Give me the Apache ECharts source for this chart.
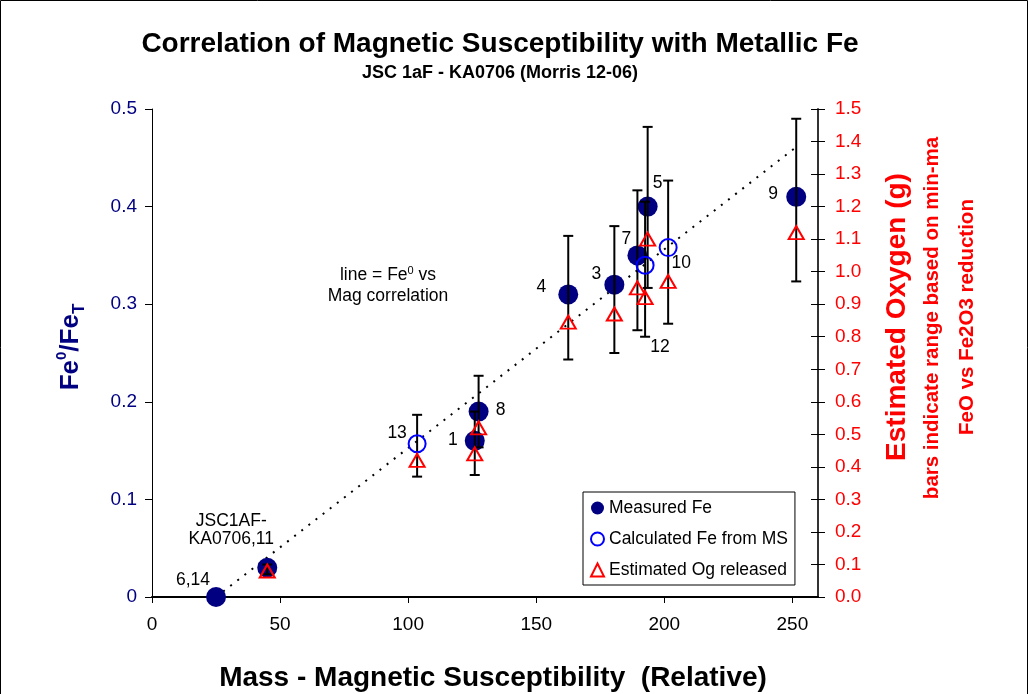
<!DOCTYPE html>
<html>
<head>
<meta charset="utf-8">
<script src="https://cdn.jsdelivr.net/npm/echarts@6/dist/echarts.min.js"></script>
<style>
  html, body { margin: 0; padding: 0; background: #fff; }
  #chart { width: 1029px; height: 694px; }
</style>
</head>
<body>
<div id="chart"></div>
<script>
// measured Fe0/FeT (left axis)
var xMeas = [25, 45, 126, 127.5, 162.5, 180.5, 189.5, 193.5, 251.5];
var yMeas = [0, 0.03, 0.16, 0.19, 0.31, 0.32, 0.35, 0.40, 0.41];
var measNames = ['6,14', 'JSC1AF-\nKA0706,11', '1', '8', '4', '3', '7', '5', '9'];

// calculated Fe from MS (left axis)
var xCalc = [103.5, 192.5, 201.5];
var yCalc = [0.157, 0.34, 0.358];
var calcNames = ['13', '12', '10'];

// estimated oxygen released (right axis) with min-max bars
var xOg = [45, 103.5, 126, 127.5, 162.5, 180.5, 189.5, 192.5, 193.5, 201.5, 251.5];
var yOg = [0.08, 0.42, 0.44, 0.52, 0.845, 0.87, 0.95, 0.92, 1.10, 0.97, 1.12];
var ogLow = [0.07, 0.37, 0.375, 0.46, 0.73, 0.75, 0.82, 0.80, 0.95, 0.84, 0.97];
var ogHigh = [0.10, 0.56, 0.57, 0.68, 1.11, 1.14, 1.25, 1.215, 1.445, 1.28, 1.47];

// Fe0 vs Mag correlation line
var lineX = [25, 251.5];
var lineY = [0, 0.461];

var xTicks = [0, 50, 100, 150, 200, 250];

// label placement (px offsets from the marker centre)
var measOffsets = [[-23, -17], [-36, -38], [-22, -1], [22, -1], [-27, -7], [-18, -11], [-11, -16], [10, -23], [-23, -3]];
var calcOffsets = [[-20, -11], [15, 82], [13, 16]];

var FONT = '"Liberation Sans", Arial, sans-serif';

function withLabels(xs, ys, names, offs) {
    return xs.map(function (x, i) {
        return {
            value: [x, ys[i]],
            label: {
                show: true, position: 'inside', offset: offs[i],
                formatter: names[i], color: '#000', fontSize: 17.5,
                fontFamily: FONT, lineHeight: 18
            }
        };
    });
}

var myChart = echarts.init(document.getElementById('chart'));

var option = {
    backgroundColor: '#fff',
    animation: false,
    textStyle: { fontFamily: FONT },
    grid: { left: 152, right: 211, top: 109, bottom: 97, containLabel: false },
    legend: {
        orient: 'vertical',
        left: 583, top: 492,
        padding: [7, 7, 6, 7],
        itemGap: 13,
        itemWidth: 13, itemHeight: 13,
        backgroundColor: '#fff',
        borderColor: '#000', borderWidth: 1,
        textStyle: { fontSize: 17.5, color: '#000', fontFamily: FONT },
        data: ['Measured Fe', 'Calculated Fe from MS', 'Estimated Og released']
    },
    xAxis: {
        type: 'value', min: 0, max: 260, interval: 50,
        splitLine: { show: false },
        axisLine: { lineStyle: { color: '#000', width: 2 } },
        axisTick: { show: true, length: 6, lineStyle: { color: '#000' } },
        axisLabel: {
            margin: 18, fontSize: 19, color: '#000', fontFamily: FONT,
            showMaxLabel: false,
            formatter: function (v) { return xTicks.indexOf(v) >= 0 ? String(v) : ''; }
        }
    },
    yAxis: [{
        type: 'value', min: 0, max: 0.5, interval: 0.1, position: 'left',
        splitLine: { show: false },
        axisLine: { show: true, lineStyle: { color: '#000', width: 1 } },
        axisTick: { show: true, length: 7, lineStyle: { color: '#000' } },
        axisLabel: {
            margin: 15, fontSize: 19, color: '#000080', fontFamily: FONT,
            formatter: function (v) { return v === 0 ? '0' : v.toFixed(1); }
        }
    }, {
        type: 'value', min: 0, max: 1.5, interval: 0.1, position: 'right',
        splitLine: { show: false },
        axisLine: { show: true, lineStyle: { color: '#333', width: 2 } },
        axisTick: { show: true, length: 7, lineStyle: { color: '#000' } },
        axisLabel: {
            margin: 17, fontSize: 19, color: '#ff0000', fontFamily: FONT,
            formatter: function (v) { return v.toFixed(1); }
        }
    }, {
        // inner half of the cross ticks on the right axis
        type: 'value', min: 0, max: 1.5, interval: 0.1, position: 'right',
        splitLine: { show: false },
        axisLine: { show: false },
        axisTick: { show: true, inside: true, length: 7, lineStyle: { color: '#000' } },
        axisLabel: { show: false }
    }],
    series: [{
        name: 'correlation',
        type: 'line',
        yAxisIndex: 0,
        data: lineX.map(function (x, i) { return [x, lineY[i]]; }),
        symbol: 'none',
        lineStyle: { color: '#000', width: 2, type: [2, 7] },
        z: 1
    }, {
        name: 'Measured Fe',
        type: 'scatter',
        yAxisIndex: 0,
        symbol: 'circle', symbolSize: 20,
        itemStyle: { color: '#000080', opacity: 1 },
        data: withLabels(xMeas, yMeas, measNames, measOffsets),
        z: 2
    }, {
        name: 'bars',
        type: 'custom',
        yAxisIndex: 1,
        data: xOg.map(function (x, i) { return [x, ogLow[i], ogHigh[i]]; }),
        encode: { x: 0, y: [1, 2] },
        renderItem: function (params, api) {
            var top = api.coord([api.value(0), api.value(2)]);
            var bot = api.coord([api.value(0), api.value(1)]);
            var w = 5;
            var st = { stroke: '#000', lineWidth: 2 };
            return {
                type: 'group',
                children: [
                    { type: 'line', shape: { x1: top[0], y1: top[1], x2: bot[0], y2: bot[1] }, style: st },
                    { type: 'line', shape: { x1: top[0] - w, y1: top[1], x2: top[0] + w, y2: top[1] }, style: st },
                    { type: 'line', shape: { x1: bot[0] - w, y1: bot[1], x2: bot[0] + w, y2: bot[1] }, style: st }
                ]
            };
        },
        z: 3
    }, {
        name: 'Calculated Fe from MS',
        type: 'scatter',
        yAxisIndex: 0,
        symbol: 'circle', symbolSize: 17,
        itemStyle: { color: 'rgba(255,255,255,0)', borderColor: '#0000ff', borderWidth: 2, opacity: 1 },
        data: withLabels(xCalc, yCalc, calcNames, calcOffsets),
        z: 4
    }, {
        name: 'Estimated Og released',
        type: 'scatter',
        yAxisIndex: 1,
        symbol: 'triangle', symbolSize: [15, 13],
        itemStyle: { color: 'rgba(255,255,255,0)', borderColor: '#ff0000', borderWidth: 2, opacity: 1 },
        data: xOg.map(function (x, i) { return [x, yOg[i]]; }),
        z: 5
    }],
    graphic: [{
        type: 'rect', silent: true,
        shape: { x: 0.5, y: 0.5, width: 1027, height: 720 },
        style: { fill: 'none', stroke: '#000', lineWidth: 1 }
    }, {
        type: 'text', x: 500, y: 44,
        style: {
            text: 'Correlation of Magnetic Susceptibility with Metallic Fe',
            font: 'bold 28px ' + FONT, fill: '#000',
            textAlign: 'center', textVerticalAlign: 'middle', align: 'center', verticalAlign: 'middle'
        }
    }, {
        type: 'text', x: 500, y: 73,
        style: {
            text: 'JSC 1aF - KA0706 (Morris 12-06)',
            font: 'bold 18px ' + FONT, fill: '#000',
            textAlign: 'center', textVerticalAlign: 'middle', align: 'center', verticalAlign: 'middle'
        }
    }, {
        type: 'text', x: 493, y: 678,
        style: {
            text: 'Mass - Magnetic Susceptibility  (Relative)',
            font: 'bold 28px ' + FONT, fill: '#000',
            textAlign: 'center', textVerticalAlign: 'middle', align: 'center', verticalAlign: 'middle'
        }
    }, {
        type: 'text', x: 71, y: 347, rotation: Math.PI / 2,
        style: {
            text: '{a|Fe}{s|0}{a|/Fe}{t|T}',
            fill: '#000080',
            textAlign: 'center', textVerticalAlign: 'middle', align: 'center', verticalAlign: 'middle',
            rich: {
                a: { font: 'bold 26px ' + FONT, fill: '#000080', lineHeight: 34, verticalAlign: 'middle' },
                s: { font: 'bold 15px ' + FONT, fill: '#000080', lineHeight: 34, verticalAlign: 'top', padding: [0, 0, 14, 0] },
                t: { font: 'bold 17px ' + FONT, fill: '#000080', lineHeight: 34, verticalAlign: 'bottom', padding: [8, 0, 0, 0] }
            }
        }
    }, {
        type: 'text', x: 897, y: 317, rotation: Math.PI / 2,
        style: {
            text: 'Estimated Oxygen (g)',
            font: 'bold 28px ' + FONT, fill: '#ff0000',
            textAlign: 'center', textVerticalAlign: 'middle', align: 'center', verticalAlign: 'middle'
        }
    }, {
        type: 'text', x: 932, y: 318, rotation: Math.PI / 2,
        style: {
            text: 'bars indicate range based on min-ma',
            font: 'bold 20.5px ' + FONT, fill: '#ff0000',
            textAlign: 'center', textVerticalAlign: 'middle', align: 'center', verticalAlign: 'middle'
        }
    }, {
        type: 'text', x: 967, y: 317, rotation: Math.PI / 2,
        style: {
            text: 'FeO vs Fe2O3 reduction',
            font: 'bold 20.5px ' + FONT, fill: '#ff0000',
            textAlign: 'center', textVerticalAlign: 'middle', align: 'center', verticalAlign: 'middle'
        }
    }, {
        type: 'text', x: 388, y: 286,
        style: {
            text: '{n|line = Fe}{s|0}{n| vs}\n{n|Mag correlation}',
            fill: '#000',
            textAlign: 'center', textVerticalAlign: 'middle', align: 'center', verticalAlign: 'middle',
            rich: {
                n: { font: '17.5px ' + FONT, fill: '#000', lineHeight: 21 },
                s: { font: '11px ' + FONT, fill: '#000', lineHeight: 21, verticalAlign: 'top', padding: [0, 0, 8, 0] }
            }
        }
    }]
};

myChart.setOption(option);
</script>
</body>
</html>
